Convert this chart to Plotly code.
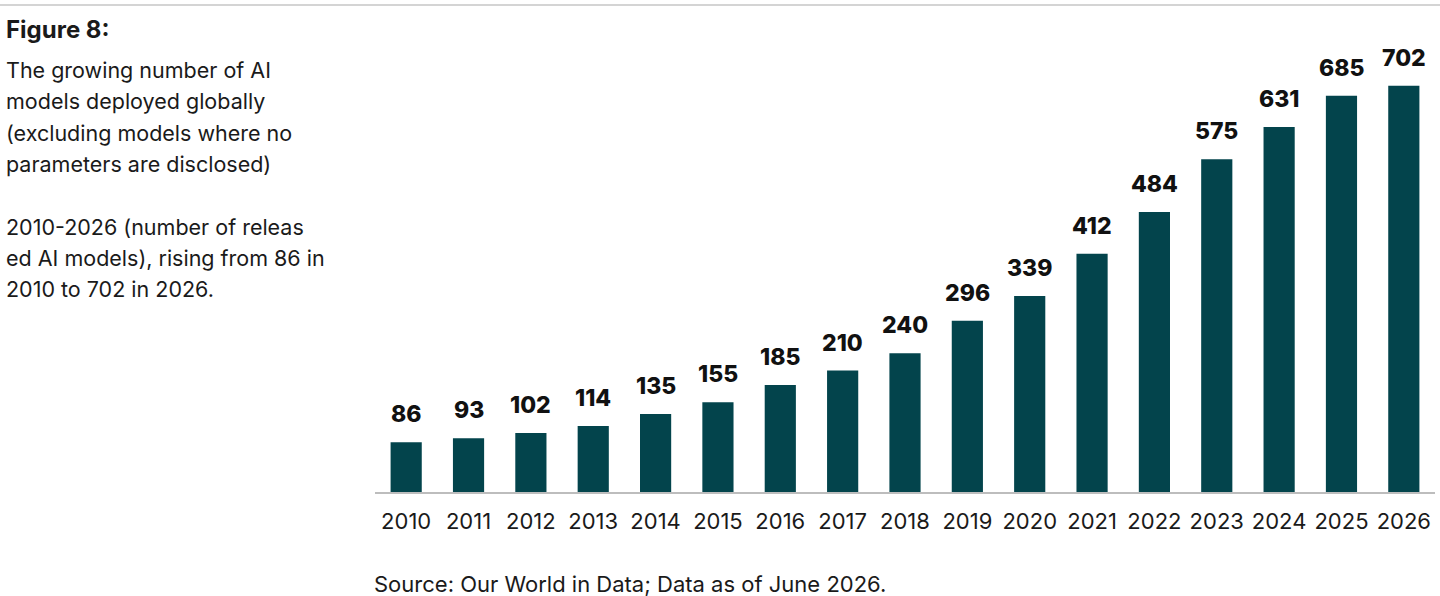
import plotly.graph_objects as go

# data
years = list(range(2010, 2027))
models = [86, 93, 102, 114, 135, 155, 185, 210, 240, 296, 339, 412, 484, 575, 631, 685, 702]

title_text = "Figure 8:"
desc_lines = [
    "The growing number of AI",
    "models deployed globally",
    "(excluding models where no",
    "parameters are disclosed)",
    "",
    "2010-2026 (number of releas",
    "ed AI models), rising from 86 in",
    "2010 to 702 in 2026.",
]
source_text = "Source: Our World in Data; Data as of June 2026."

bar_color = "#03444c"
text_color = "#1a1a1a"
font_name = "Inter"

W, H = 1440, 596
m_l, m_r, m_t, m_b = 375, 5, 50, 104
pw = W - m_l - m_r
ph = H - m_t - m_b


def px_x(x):
    return (x - m_l) / pw


def px_y(y):
    return (H - m_b - y) / ph


fig = go.Figure()
fig.add_trace(go.Bar(
    x=years,
    y=models,
    marker=dict(color=bar_color, line=dict(width=0)),
    hoverinfo="x+y",
))

annotations = []
for yr, v in zip(years, models):
    annotations.append(dict(
        x=yr, y=v, xref="x", yref="y",
        text=str(v), showarrow=False,
        yanchor="bottom", yshift=12,
        font=dict(family=font_name, size=23, color="#111111", weight=800),
    ))

annotations.append(dict(
    x=px_x(4), y=px_y(30), xref="paper", yref="paper",
    text="<b>%s</b>" % title_text, showarrow=False,
    xanchor="left", yanchor="middle",
    font=dict(family=font_name, size=24, color=text_color),
))
for i, line in enumerate(desc_lines):
    if not line:
        continue
    annotations.append(dict(
        x=px_x(4), y=px_y(70 + 31.3 * i), xref="paper", yref="paper",
        text=line, showarrow=False,
        xanchor="left", yanchor="middle",
        font=dict(family=font_name, size=21.5, color=text_color),
    ))
annotations.append(dict(
    x=px_x(372), y=px_y(584), xref="paper", yref="paper",
    text=source_text, showarrow=False,
    xanchor="left", yanchor="middle",
    font=dict(family=font_name, size=22, color=text_color),
))

fig.update_layout(
    width=W, height=H,
    margin=dict(l=m_l, r=m_r, t=m_t, b=m_b),
    paper_bgcolor="white",
    plot_bgcolor="white",
    bargap=0.5,
    showlegend=False,
    annotations=annotations,
    shapes=[dict(
        type="line", xref="paper", yref="paper",
        x0=px_x(0), x1=px_x(W), y0=px_y(5), y1=px_y(5),
        line=dict(color="#d4d4d4", width=2),
    )],
    xaxis=dict(
        range=[2009.5, 2026.5],
        tickmode="linear", tick0=2010, dtick=1,
        showgrid=False, zeroline=False,
        showline=True, linecolor="#bdbdbd", linewidth=1.5,
        ticks="", ticklabelstandoff=9,
        tickfont=dict(family=font_name, size=22, color=text_color),
    ),
    yaxis=dict(
        range=[0, 764],
        visible=False,
        showgrid=False,
        zeroline=False,
    ),
)

# drop the browser's default body margin so the figure fills the window
fig.write_html(
    "out.html",
    config={"displayModeBar": False},
    post_script="document.body.style.margin='0';",
)
